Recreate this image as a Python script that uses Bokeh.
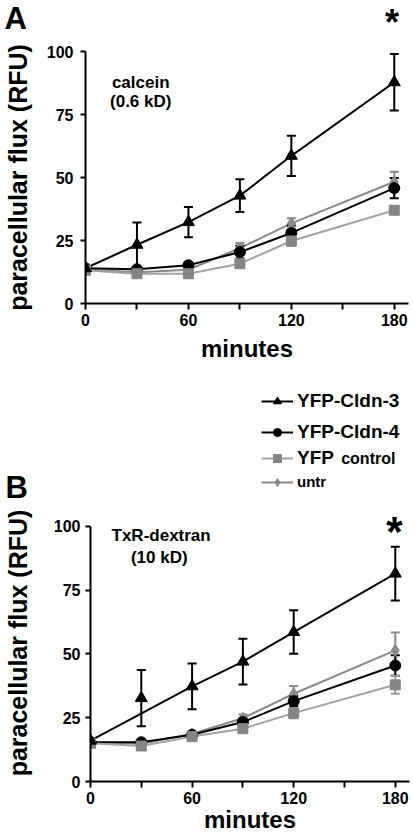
from bokeh.plotting import figure
from bokeh.layouts import column
from bokeh.models import Range1d, FixedTicker, Label, Legend, LegendItem
from bokeh.embed import file_html
from bokeh.resources import INLINE

FONT = "Liberation Sans"

# ---------------- data ----------------
minutes = [0, 30, 60, 90, 120, 180]
x_ticks = [0, 30, 60, 90, 120, 150, 180]
x_tick_text = ["0", "", "60", "", "120", "", "180"]
y_ticks = [0, 25, 50, 75, 100]

series_names = ["YFP-Cldn-3", "YFP-Cldn-4", "YFP control", "untr"]

# Panel A: calcein (0.6 kD)
A_cldn3 = [14.0, 23.3, 32.3, 42.8, 58.6, 87.8]
A_cldn3_err = [0.0, 8.8, 6.0, 6.5, 8.0, 11.2]
A_cldn4 = [14.0, 13.6, 15.2, 20.4, 28.0, 45.8]
A_cldn4_err = [0.5, 1.0, 1.0, 2.5, 3.0, 4.0]
A_ctrl = [13.2, 11.8, 11.8, 15.8, 24.8, 37.0]
A_ctrl_err = [0.5, 0.5, 0.5, 1.0, 2.0, 1.5]
A_untr = [13.6, 12.4, 13.4, 22.0, 31.8, 48.3]
A_untr_err = [0.5, 0.5, 0.5, 2.0, 2.0, 4.0]

# Panel B: TxR-dextran (10 kD)
B_cldn3 = [16.0, 32.7, 37.3, 47.0, 58.6, 81.5]
B_cldn3_err = [0.0, 11.0, 9.0, 9.0, 8.5, 10.5]
B_cldn3_on_line = [True, False, True, True, True, True]
B_cldn4 = [15.4, 15.4, 18.3, 23.3, 31.5, 45.5]
B_cldn4_err = [0.5, 0.8, 1.0, 1.5, 2.0, 4.0]
B_ctrl = [15.0, 13.9, 17.6, 20.7, 26.8, 37.9]
B_ctrl_err = [0.5, 0.5, 1.0, 1.0, 2.0, 3.5]
B_untr = [15.4, 14.8, 18.7, 24.8, 34.4, 51.4]
B_untr_err = [0.5, 0.5, 1.0, 1.5, 3.0, 7.0]

# ---------------- styles ----------------
STYLE = {
    "YFP-Cldn-3": dict(line="#000000", fill="#000000", marker="triangle", size=12),
    "YFP-Cldn-4": dict(line="#000000", fill="#000000", marker="circle", size=11),
    "YFP control": dict(line="#a3a3a3", fill="#858585", marker="square", size=10),
    "untr": dict(line="#8a8a8a", fill="#8a8a8a", marker="diamond", size=12),
}
ERR_COLOR = {"YFP-Cldn-3": "#000000", "YFP-Cldn-4": "#000000",
             "YFP control": "#9a9a9a", "untr": "#8a8a8a"}
DRAW_ORDER = ["untr", "YFP-Cldn-4", "YFP control", "YFP-Cldn-3"]


def blank_fig(width, height, xr, yr):
    f = figure(width=width, height=height, output_backend="svg", title=None,
               toolbar_location=None, x_range=Range1d(*xr), y_range=Range1d(*yr),
               x_axis_location=None, y_axis_location=None,
               min_border=0, min_border_left=0, min_border_right=0,
               min_border_top=0, min_border_bottom=0, frame_align=False)
    f.outline_line_color = None
    f.grid.visible = False
    return f


def make_panel(width, height, b_left, b_right, b_top, b_bottom, xmax, ymax,
               data, xlab_standoff, ylab_standoff, ytick_standoff):
    p = figure(width=width, height=height, output_backend="svg", title=None,
               toolbar_location=None, x_range=Range1d(0, xmax),
               y_range=Range1d(0, ymax), frame_align=False,
               min_border_left=b_left, min_border_right=b_right,
               min_border_top=b_top, min_border_bottom=b_bottom)
    p.outline_line_color = None
    p.grid.visible = False

    for ax in (p.xaxis[0], p.yaxis[0]):
        ax.axis_line_width = 2
        ax.axis_line_color = "black"
        ax.major_tick_line_width = 2
        ax.major_tick_line_color = "black"
        ax.major_tick_in = 0
        ax.minor_tick_out = 0
        ax.minor_tick_in = 0
        ax.major_label_text_font = FONT
        ax.major_label_text_font_style = "bold"
        ax.major_label_text_font_size = "16px"
        ax.major_label_text_color = "black"
        ax.axis_label_text_font = FONT
        ax.axis_label_text_font_style = "bold"
        ax.axis_label_text_color = "black"

    p.xaxis.ticker = FixedTicker(ticks=x_ticks)
    p.xaxis.major_label_overrides = {t: s for t, s in zip(x_ticks, x_tick_text)}
    p.xaxis.major_tick_out = 6
    p.xaxis.major_label_standoff = 4
    p.xaxis.axis_label = "minutes"
    p.xaxis.axis_label_text_font_size = "24px"
    p.xaxis.axis_label_standoff = xlab_standoff

    p.yaxis.ticker = FixedTicker(ticks=y_ticks)
    p.yaxis.bounds = (0, 100)
    p.yaxis.major_tick_out = 5
    p.yaxis.major_label_standoff = ytick_standoff
    p.yaxis.axis_label = "paracellular flux (RFU)"
    p.yaxis.axis_label_text_font_size = "25px"
    p.yaxis.axis_label_standoff = ylab_standoff

    for name in DRAW_ORDER:
        vals, errs, on_line = data[name]
        st = STYLE[name]
        lx = [m for m, k in zip(minutes, on_line) if k]
        ly = [v for v, k in zip(vals, on_line) if k]
        p.line(lx, ly, line_color=st["line"], line_width=2)
        ec = ERR_COLOR[name]
        up = [v + e for v, e in zip(vals, errs)]
        lo = [v - e for v, e in zip(vals, errs)]
        p.segment(x0=minutes, y0=lo, x1=minutes, y1=up, line_color=ec, line_width=2)
        p.scatter(minutes, up, marker="dash", size=9, line_color=ec, line_width=2)
        p.scatter(minutes, lo, marker="dash", size=9, line_color=ec, line_width=2)
    for name in DRAW_ORDER:
        vals, errs, on_line = data[name]
        st = STYLE[name]
        p.scatter(minutes, vals, marker=st["marker"], size=st["size"],
                  fill_color=st["fill"], line_color=st["fill"], line_width=1)
    return p


def txt(p, x, y, s, size, align="center"):
    p.add_layout(Label(x=x, y=y, text=s, text_font=FONT, text_font_style="bold",
                       text_font_size=size, text_align=align,
                       text_baseline="alphabetic", text_color="black"))


all_true = [True] * 6
data_A = {
    "YFP-Cldn-3": (A_cldn3, A_cldn3_err, all_true),
    "YFP-Cldn-4": (A_cldn4, A_cldn4_err, all_true),
    "YFP control": (A_ctrl, A_ctrl_err, all_true),
    "untr": (A_untr, A_untr_err, all_true),
}
data_B = {
    "YFP-Cldn-3": (B_cldn3, B_cldn3_err, B_cldn3_on_line),
    "YFP-Cldn-4": (B_cldn4, B_cldn4_err, all_true),
    "YFP control": (B_ctrl, B_ctrl_err, all_true),
    "untr": (B_untr, B_untr_err, all_true),
}

W = 413
# ---- header of panel A: letter and significance star ----
pxA = 326 / 188.3   # pixels per minute in panel A
hdrA = blank_fig(W, 42, (-82 / pxA, (W - 82) / pxA), (0, 42))
txt(hdrA, -45.0, 23.6, "A", "31px", "left")
txt(hdrA, 178.8, 20.0, "*", "36px")

# ---- panel A ----
pA = make_panel(W, 332, 82, 5, 9, 71, 188.3, 100, data_A, 6, 12, 7)
txt(pA, 32.2, 87.7, "calcein", "17px")
txt(pA, 32.2, 80.0, "(0.6 kD)", "17px")

# ---- header of panel B: legend and letter ----
MID_TOP, MID_H = 374, 130
mid = blank_fig(W, MID_H, (0, W), (0, MID_H))
txt(mid, 5, 17.2, "B", "31px", "left")
leg_rows = [("YFP-Cldn-3", "YFP-Cldn-3", 402.3, "19px"),
            ("YFP-Cldn-4", "YFP-Cldn-4", 433.3, "19px"),
            ("YFP control", "YFP", 459.0, "19px"),
            ("untr", "untr", 481.7, "15px")]
for name, lab, cy, fs in leg_rows:
    st = STYLE[name]
    vals = data_B[name][0]
    # hidden proxies (same series) that only provide the legend icons
    lr = mid.line(minutes, vals, line_color=st["line"], line_width=2, visible=False)
    sr = mid.scatter(minutes, vals, marker=st["marker"], size=st["size"],
                     fill_color=st["fill"], line_color=st["fill"], visible=False)
    cy_local = MID_TOP + MID_H - cy
    leg = Legend(items=[LegendItem(label=lab, renderers=[lr, sr])],
                 location=(261, cy_local - 10),
                 border_line_color=None, background_fill_alpha=0,
                 inactive_fill_alpha=0,
                 padding=0, margin=0, spacing=0,
                 glyph_width=32, glyph_height=20, label_height=20,
                 label_standoff=4, label_text_font=FONT,
                 label_text_font_style="bold", label_text_font_size=fs,
                 label_text_color="black", label_text_baseline="middle")
    mid.add_layout(leg)
txt(mid, 340.7, 45.8, "control", "16px", "left")

# ---- panel B ----
pB = make_panel(W, 333, 87, 4, 0, 56, 188.4, 108.6, data_B, -1, 19, 5)
txt(pB, 179.5, 98.1, "*", "42px")
txt(pB, 41.7, 96.6, "TxR-dextran", "17px")
txt(pB, 40.6, 87.9, "(10 kD)", "17px")

layout = column(hdrA, pA, mid, pB, spacing=0)
open("out.html", "w").write(file_html(layout, INLINE))
